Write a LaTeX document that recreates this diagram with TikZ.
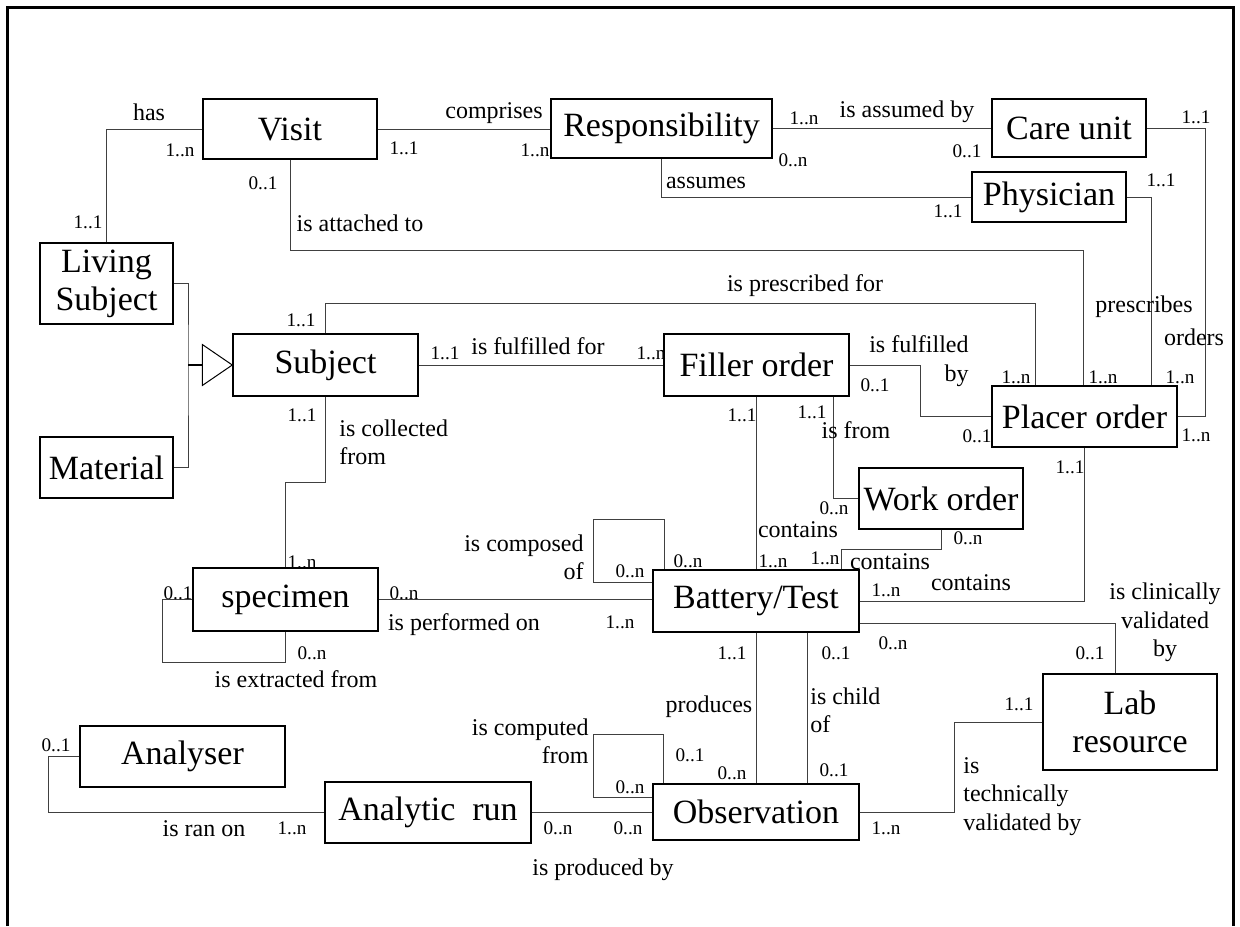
\documentclass[tikz,border=0pt]{standalone}
\usepackage{fontspec}
\setmainfont{Liberation Serif}
\usepackage{tikz}
\usetikzlibrary{positioning}

\begin{document}
\begin{tikzpicture}[x=0.5pt, y=-0.5pt,
    entity/.style={draw, rectangle, inner sep=1pt, align=center, line width=0.7pt,
        font=\fontsize{17}{19}\selectfont},
    rel/.style={draw=black!75, line width=0.5pt},
    lbl/.style={inner sep=0pt, font=\fontsize{12}{14.2}\selectfont},
    mult/.style={inner sep=0pt, font=\fontsize{9.6}{11}\selectfont}]
    \useasboundingbox (0,0) rectangle (1240,926);
    % Frame
    \draw[line width=1.5pt] (7,926) -- (7,7) -- (1233,7) -- (1233,926);

    % Entities
    \node[entity, minimum width=87pt, minimum height=30pt] (visit) at (290,129) {Visit};
    \node[entity, minimum width=110.5pt, minimum height=29.5pt] (resp) at (661.5,128.5) {Responsibility};
    \node[entity, minimum width=77pt, minimum height=29pt] (careunit) at (1069,128) {Care unit};
    \node[entity, minimum width=77pt, minimum height=25pt] (physician) at (1049,197) {Physician};
    \node[entity, minimum width=66.5pt, minimum height=40.5pt] (livsub) at (106.5,283.5) {Living\\Subject};
    \node[entity, minimum width=66.5pt, minimum height=30.5pt] (material) at (106.5,467.5) {Material};
    \node[entity, minimum width=92.5pt, minimum height=31pt] (subject) at (325.5,365) {Subject};
    \node[entity, minimum width=92.5pt, minimum height=31pt] (filler) at (756.5,365) {Filler order};
    \node[entity, minimum width=92.5pt, minimum height=30.5pt] (placer) at (1084.5,416.5) {Placer order};
    \node[entity, minimum width=82pt, minimum height=30.5pt] (workord) at (941,498.5) {Work order};
    \node[entity, minimum width=92.5pt, minimum height=31.5pt] (specimen) at (285.5,599.5) {specimen};
    \node[entity, minimum width=103pt, minimum height=31pt] (battery) at (756,601) {Battery/Test};
    \node[entity, minimum width=87pt, minimum height=48pt] (labres) at (1130,722) {Lab\\resource};
    \node[entity, minimum width=102.5pt, minimum height=30.5pt] (analyser) at (182.5,756.5) {Analyser};
    \node[entity, minimum width=103pt, minimum height=30.5pt] (run) at (428,812.5) {Analytic~ run};
    \node[entity, minimum width=103pt, minimum height=28pt] (observ) at (756,812) {Observation};

    % Generalisation
    \coordinate (gen) at (188,365);
    \coordinate (tri) at (203,365);
    \draw[rel] (livsub.east) -| (gen) |- (material.east);
    \draw[line width=0.8pt] (gen) -- (tri);
    \draw[line width=0.5pt, fill=white] (subject.west) -- ++(-30,-20.5) -- ++(0,41) -- cycle;

    % Relationships
    \draw[rel] (visit.west) -| (livsub.north);
    \draw[rel] (visit.east) -- (visit.east -| resp.west);
    \draw[rel] (resp.east) -- (resp.east -| careunit.west);
    \draw[rel] (resp.south) |- (physician.west);
    \draw[rel] (careunit.east) -| (placer.east -| 1205,0) -- (placer.east);
    \draw[rel] (physician.east) -| (placer.north -| 1151,0);
    \draw[rel] (visit.south) -- ++(0,91) -| (placer.north -| 1083,0);
    \draw[rel] (subject.north) -- ++(0,-30) -| (placer.north -| 1035,0);
    \draw[rel] (subject.east) -- (filler.west);
    \draw[rel] (filler.east) -- (filler.east -| 920,0) |- (placer.west);
    \draw[rel] (filler.south -| 833,0) |- (workord.west);
    \draw[rel] (filler.south) -- (filler.south |- battery.north);
    \draw[rel] (workord.south) -- ++(0,20) -| (battery.north -| 841,0);
    \draw[rel] (placer.south) |- (battery.east);
    \draw[rel] (battery.west |- 0,582) -- (593,582) |- (664,519) -- (battery.north -| 664,0);
    \draw[rel] (specimen.east) -- (specimen.east -| battery.west);
    \draw[rel] (subject.south) -- ++(0,86) -| (specimen.north);
    \draw[rel] (specimen.west) -- ++(-30,0) -- ++(0,63) -| (specimen.south);
    \draw[rel] (battery.south) -- (observ.north);
    \draw[rel] (battery.south -| 807,0) -- (observ.north -| 807,0);
    \draw[rel] (battery.east |- 0,623) -| (labres.north -| 1115,0);
    \draw[rel] (observ.east) -- ++(95,0) |- (labres.west);
    \draw[rel] (observ.west |- 0,797) -- (593,797) |- (663,734) -- (observ.north -| 663,0);
    \draw[rel] (run.east) -- (run.east -| observ.west);
    \draw[rel] (analyser.west) -- ++(-31,0) |- (run.west);

    % Role names
    \node[lbl] (has) at (149,112) {has};
    \node[lbl] (comprises) at (494,113) {comprises};
    \node[lbl] (assumedby) at (907,112) {is assumed by};
    \node[lbl] (assumes) at (706,183) {assumes};
    \node[lbl] (orders) at (1194,337) {orders};
    \node[lbl] (prescribes) at (1144,307) {prescribes};
    \node[lbl] (attached) at (360,223) {is attached to};
    \node[lbl] (prescrfor) at (805,286) {is prescribed for};
    \node[lbl] (fulfilfor) at (538,346) {is fulfilled for};
    \node[lbl, align=right, anchor=east] (fulfilby) at (969,361) {is fulfilled\\by};
    \node[lbl] (isfrom) at (856,430) {is from};
    \node[lbl] (cont1) at (798,530) {contains};
    \node[lbl] (cont2) at (890,562) {contains};
    \node[lbl] (cont3) at (971,583) {contains};
    \node[lbl, align=right, anchor=east] (composed) at (584,557) {is composed\\of};
    \node[lbl] (performed) at (464,625) {is performed on};
    \node[lbl, align=left, anchor=west] (collected) at (339,442.5) {is collected\\from};
    \node[lbl] (extracted) at (296,679) {is extracted from};
    \node[lbl] (produces) at (709,707) {produces};
    \node[lbl, align=left, anchor=west] (child) at (810,710) {is child\\of};
    \node[lbl, align=center] (clinval) at (1165,622.5) {is clinically\\validated\\by};
    \node[lbl, align=left, anchor=west] (techval) at (963,796.5) {is\\technically\\validated by};
    \node[lbl, align=right, anchor=east] (computed) at (589,741.5) {is computed\\from};
    \node[lbl] (producedby) at (603,870) {is produced by};
    \node[lbl] (ranon) at (204,829) {is ran on};

    % Multiplicities
    \node[mult] (m1) at (180,150) {1..n};
    \node[mult] (m2) at (88,222) {1..1};
    \node[mult] (m3) at (404,148) {1..1};
    \node[mult] (m4) at (535,150) {1..n};
    \node[mult] (m5) at (804,118) {1..n};
    \node[mult] (m6) at (793,160) {0..n};
    \node[mult] (m7) at (967,151) {0..1};
    \node[mult] (m8) at (948,211) {1..1};
    \node[mult] (m9) at (1196,117) {1..1};
    \node[mult] (m10) at (1196,435) {1..n};
    \node[mult] (m11) at (1161,180) {1..1};
    \node[mult] (m12) at (1180,377) {1..n};
    \node[mult] (m13) at (263,183) {0..1};
    \node[mult] (m14) at (1103,377) {1..n};
    \node[mult] (m15) at (301,320) {1..1};
    \node[mult] (m16) at (1016,377) {1..n};
    \node[mult] (m17) at (445,353) {1..1};
    \node[mult] (m18) at (651,353) {1..n};
    \node[mult] (m19) at (875,385) {0..1};
    \node[mult] (m20) at (977,436) {0..1};
    \node[mult] (m21) at (812,412) {1..1};
    \node[mult] (m22) at (834,508) {0..n};
    \node[mult] (m23) at (742,415) {1..1};
    \node[mult] (m24) at (773,561) {1..n};
    \node[mult] (m25) at (968,538) {0..n};
    \node[mult] (m26) at (825,558) {1..n};
    \node[mult] (m27) at (1070,467) {1..1};
    \node[mult] (m28) at (886,590) {1..n};
    \node[mult] (m29) at (630,571) {0..n};
    \node[mult] (m30) at (688,561) {0..n};
    \node[mult] (m31) at (404,593) {0..n};
    \node[mult] (m32) at (620,622) {1..n};
    \node[mult] (m33) at (302,415) {1..1};
    \node[mult] (m34) at (302,562) {1..n};
    \node[mult] (m35) at (178,593) {0..1};
    \node[mult] (m36) at (312,653) {0..n};
    \node[mult] (m37) at (732,653) {1..1};
    \node[mult] (m38) at (732,773) {0..n};
    \node[mult] (m39) at (836,653) {0..1};
    \node[mult] (m40) at (834,770) {0..1};
    \node[mult] (m41) at (893,643) {0..n};
    \node[mult] (m42) at (1090,653) {0..1};
    \node[mult] (m43) at (1019,704) {1..1};
    \node[mult] (m44) at (886,828) {1..n};
    \node[mult] (m45) at (630,787) {0..n};
    \node[mult] (m46) at (690,755) {0..1};
    \node[mult] (m47) at (558,828) {0..n};
    \node[mult] (m48) at (628,828) {0..n};
    \node[mult] (m49) at (56,745) {0..1};
    \node[mult] (m50) at (292,828) {1..n};
\end{tikzpicture}
\end{document}
